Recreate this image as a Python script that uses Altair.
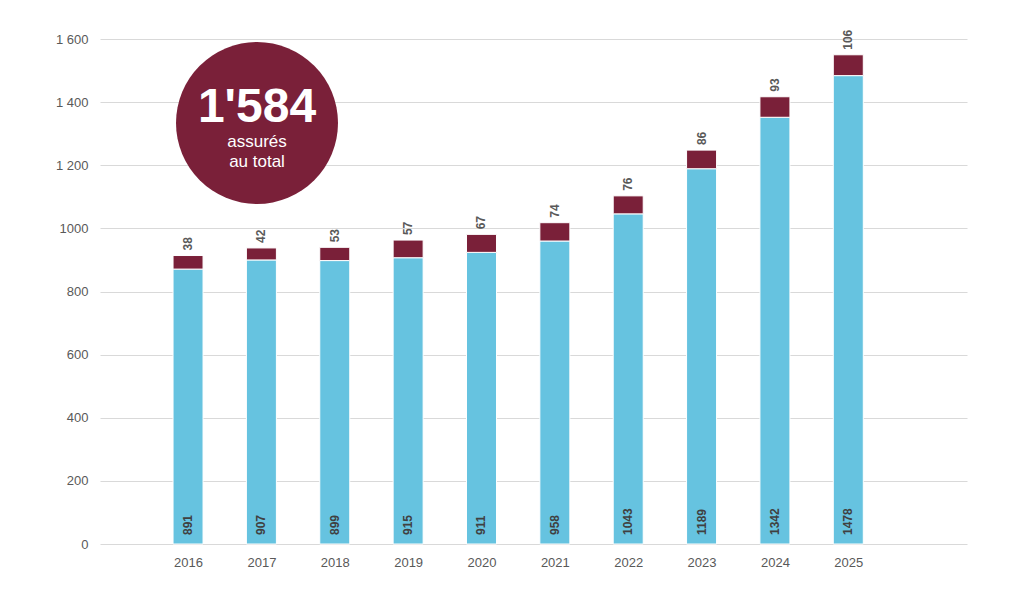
import altair as alt
import pandas as pd

years = [2016, 2017, 2018, 2019, 2020, 2021, 2022, 2023, 2024, 2025]
# bar heights as drawn in the picture
blue_values = [871, 900, 898, 907, 924, 960, 1046, 1189, 1352, 1484]
maroon_values = [43, 38, 42, 56, 57, 58, 57, 59, 65, 66]
# labels as printed in the picture
bottom_labels = ["891", "907", "899", "915", "911", "958", "1043", "1189", "1342", "1478"]
top_labels = ["38", "42", "53", "57", "67", "74", "76", "86", "93", "106"]

y_ticks = [0, 200, 400, 600, 800, 1000, 1200, 1400, 1600]
y_tick_labels = ["0", "200", "400", "600", "800", "1000", "1 200", "1 400", "1 600"]

badge_number = "1'584"
badge_line1 = "assurés"
badge_line2 = "au total"

BLUE = "#66C3E0"
MAROON = "#7A2039"
FONT = "Liberation Sans"

df = pd.DataFrame({
    "year": years,
    "blue": blue_values,
    "maroon": maroon_values,
    "bottom_label": bottom_labels,
    "top_label": top_labels,
})
df["total"] = df["blue"] + df["maroon"]

label_expr = "datum.label"
for v, l in reversed(list(zip(y_ticks, y_tick_labels))):
    label_expr = f"datum.value == {v} ? '{l}' : ({label_expr})"

x_enc = alt.X(
    "year:Q",
    scale=alt.Scale(domain=[2014.868, 2026.55], nice=False, zero=False),
    axis=alt.Axis(values=years, format="d", title=None, grid=False, domain=False,
                  ticks=False, labelPadding=12, labelFontSize=13, labelColor="#595959",
                  labelFont=FONT, labelFlush=False),
)
y_scale = alt.Scale(domain=[0, 1600], nice=False)
y_axis = alt.Axis(values=y_ticks, labelExpr=label_expr, title=None, grid=True,
                  gridColor="#D9D9D9", gridWidth=1, domain=False, ticks=False,
                  labelPadding=12, labelFontSize=13, labelColor="#595959", labelFont=FONT)

base = alt.Chart(df)

blue_bars = base.mark_bar(size=30, color=BLUE, stroke="white", strokeWidth=1).encode(
    x=x_enc,
    y=alt.Y("blue:Q", scale=y_scale, axis=y_axis, stack=None),
)
maroon_bars = base.mark_bar(size=30, color=MAROON, stroke="white", strokeWidth=1).encode(
    x="year:Q",
    y="blue:Q",
    y2="total:Q",
)
top_text = base.mark_text(angle=270, align="left", baseline="middle", dx=5,
                          fontWeight="bold", fontSize=12, color="#595959", font=FONT).encode(
    x="year:Q",
    y="total:Q",
    text="top_label:N",
)
bottom_text = base.mark_text(angle=270, align="left", baseline="middle", dx=9,
                             fontWeight="bold", fontSize=12, color="#404040", font=FONT).encode(
    x="year:Q",
    y=alt.datum(0),
    text="bottom_label:N",
)

badge_df = pd.DataFrame({"n": [badge_number], "l1": [badge_line1], "l2": [badge_line2]})
badge = alt.Chart(badge_df)
circle = badge.mark_point(shape="circle", filled=True, size=26244, color=MAROON, opacity=1).encode(
    x=alt.value(157), y=alt.value(84)
)
num = badge.mark_text(fontSize=48, fontWeight="bold", color="white", font=FONT,
                      align="center", baseline="alphabetic").encode(
    x=alt.value(157), y=alt.value(83), text="n:N"
)
l1 = badge.mark_text(fontSize=17, color="white", font=FONT, align="center",
                     baseline="alphabetic").encode(x=alt.value(157), y=alt.value(108), text="l1:N")
l2 = badge.mark_text(fontSize=17, color="white", font=FONT, align="center",
                     baseline="alphabetic").encode(x=alt.value(157), y=alt.value(128), text="l2:N")

chart = alt.layer(blue_bars, maroon_bars, top_text, bottom_text, circle, num, l1, l2).properties(
    width=867, height=505,
    autosize=alt.AutoSizeParams(type="none"),
    padding={"left": 100, "top": 39, "right": 57, "bottom": 62},
    background="white",
).configure_view(stroke=None)

chart.save("out.html", embed_options={"renderer": "svg", "actions": False})
